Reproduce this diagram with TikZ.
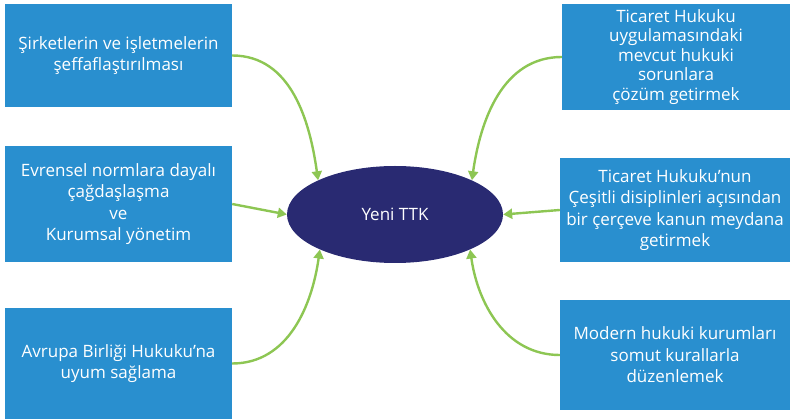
\documentclass[tikz,border=0pt]{standalone}
\usepackage{fontspec}
\setmainfont{Open Sans}
\usetikzlibrary{arrows.meta,shapes.geometric}
\definecolor{boxblue}{HTML}{298FCF}
\definecolor{ellblue}{HTML}{292A72}
\definecolor{arrgreen}{HTML}{8DC653}
\begin{document}
\begin{tikzpicture}[x=1pt,y=-1pt,
  box/.style={rectangle,fill=boxblue,text=white,align=center,inner sep=1pt,
    font=\fontsize{17}{21.5}\selectfont},
  tight/.style={font=\fontsize{17}{19.5}\selectfont},
  hub/.style={ellipse,fill=ellblue,text=white,inner sep=0pt,
    font=\fontsize{17}{20}\selectfont},
  conn/.style={draw=arrgreen,line width=2.4pt,-{Triangle[length=9pt,width=10pt]}}]
\useasboundingbox (0,0) rectangle (790,419);
\node[box,minimum width=227pt,minimum height=103pt] (b1) at (118.5,55.5)
  {Şirketlerin ve işletmelerin\\şeffaflaştırılması};
\node[box,tight,minimum width=228pt,minimum height=106pt] (b2) at (676,57)
  {Ticaret Hukuku\\uygulamasındaki\\mevcut hukuki\\sorunlara\\çözüm getirmek};
\node[box,minimum width=227pt,minimum height=116pt] (b3) at (118.5,204)
  {Evrensel normlara dayalı\\çağdaşlaşma\\ve\\Kurumsal yönetim};
\node[box,minimum width=230pt,minimum height=104pt] (b4) at (675,210)
  {Ticaret Hukuku’nun\\Çeşitli disiplinleri açısından\\bir çerçeve kanun meydana\\getirmek};
\node[box,minimum width=227pt,minimum height=111pt] (b5) at (118.5,363.5)
  {Avrupa Birliği Hukuku’na\\uyum sağlama};
\node[box,minimum width=230pt,minimum height=110pt] (b6) at (675,355)
  {Modern hukuki kurumları\\somut kurallarla\\düzenlemek};
\node[hub,minimum width=216pt,minimum height=97pt] (e) at (395,214.5) {Yeni TTK};
\draw[conn] (b1.east) to[out=0,in=98] (e.156);
\draw[conn] (b2.west) to[out=180,in=82] (e.24);
\draw[conn] (b3.east) -- (e.west);
\draw[conn] (b4.west) -- (e.east);
\draw[conn] (b5.east) to[out=0,in=-98] (e.205);
\draw[conn] (b6.west) to[out=180,in=-82] (e.335);
\end{tikzpicture}
\end{document}
